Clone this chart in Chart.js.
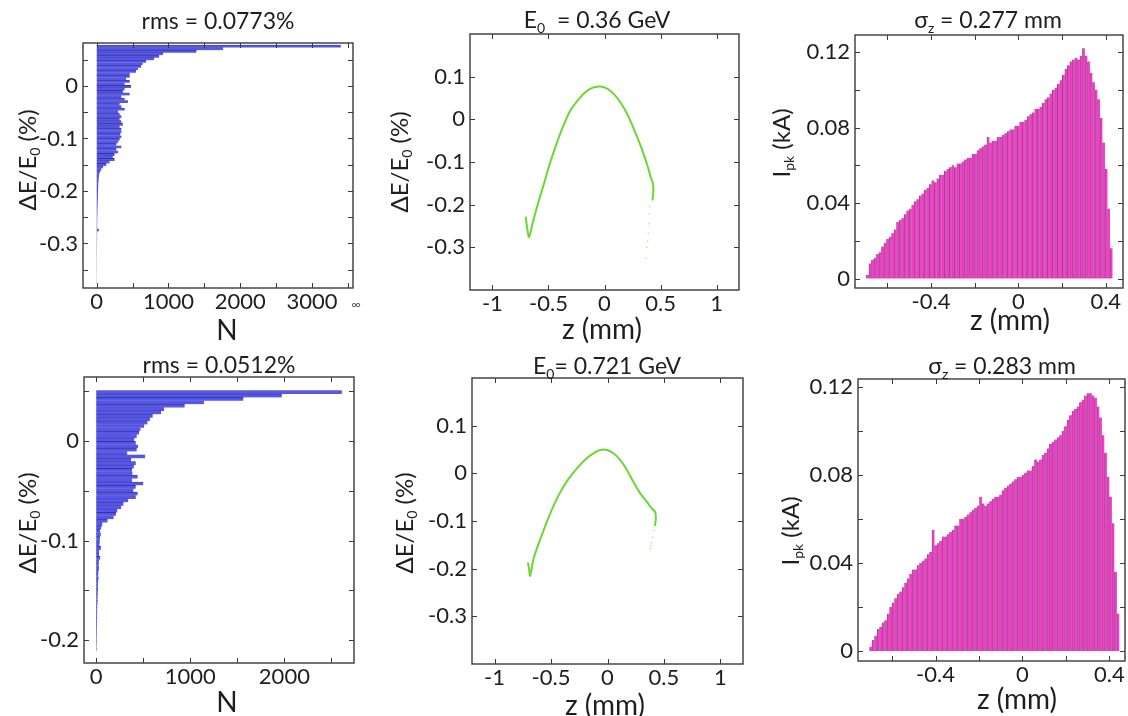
<!DOCTYPE html>
<html>
<head>
<meta charset="utf-8">
<title>Beam energy spread and current profiles</title>
<script src="https://cdn.jsdelivr.net/npm/chart.js@4.4.0/dist/chart.umd.min.js"></script>
<style>
  body { margin: 0; background: #fff; }
  #fig { position: relative; width: 1128px; height: 716px; overflow: hidden; background: #fff; }
  #fig canvas { position: absolute; }
</style>
</head>
<body>
<div id="fig"></div>
<script>
// ---- energy histogram, E0 = 0.36 GeV ----
const dE1 = [
  0.0756, 0.0708, 0.0660, 0.0612, 0.0564, 0.0516, 0.0468, 0.0420, 0.0372, 0.0324,
  0.0276, 0.0228, 0.0180, 0.0132, 0.0084, 0.0036, -0.0012, -0.0060, -0.0108, -0.0156,
  -0.0204, -0.0252, -0.0300, -0.0348, -0.0396, -0.0444, -0.0492, -0.0540, -0.0588, -0.0636,
  -0.0684, -0.0732, -0.0780, -0.0828, -0.0876, -0.0924, -0.0972, -0.1020, -0.1068, -0.1116,
  -0.1164, -0.1212, -0.1260, -0.1308, -0.1356, -0.1404, -0.1452, -0.1500, -0.1548, -0.1596,
  -0.1644, -0.1692, -0.1740, -0.1788, -0.1836, -0.1884, -0.1932, -0.1980, -0.2028, -0.2076,
  -0.2124, -0.2172, -0.2220, -0.2268, -0.2316, -0.2364, -0.2412, -0.2460, -0.2508, -0.2556,
  -0.2604, -0.2652, -0.2700, -0.2748, -0.2796, -0.2844, -0.2892, -0.2940, -0.2988, -0.3036,
  -0.3084, -0.3132, -0.3180, -0.3228, -0.3276, -0.3324, -0.3372, -0.3420, -0.3468, -0.3516,
  -0.3564, -0.3612, -0.3660, -0.3708, -0.3756
];
const count1 = [
  3400, 1760, 1390, 925, 870, 800, 690, 640, 620, 575,
  550, 460, 460, 410, 460, 390, 480, 390, 365, 460,
  345, 390, 435, 320, 345, 390, 300, 320, 345, 320,
  345, 365, 320, 345, 345, 330, 345, 320, 300, 275,
  345, 275, 300, 250, 225, 250, 180, 135, 90, 65,
  45, 35, 30, 28, 25, 24, 22, 20, 20, 18,
  17, 16, 15, 14, 13, 12, 12, 11, 10, 10,
  9, 9, 8, 30, 8, 7, 7, 6, 6, 6,
  5, 5, 5, 5, 4, 4, 4, 4, 4, 3,
  3, 3, 3, 3, 3
];

// ---- energy histogram, E0 = 0.721 GeV ----
const dE4 = [
  0.0490, 0.0456, 0.0422, 0.0388, 0.0354, 0.0320, 0.0286, 0.0252, 0.0218, 0.0184,
  0.0150, 0.0116, 0.0082, 0.0048, 0.0014, -0.0020, -0.0054, -0.0088, -0.0122, -0.0156,
  -0.0190, -0.0224, -0.0258, -0.0292, -0.0326, -0.0360, -0.0394, -0.0428, -0.0462, -0.0496,
  -0.0530, -0.0564, -0.0598, -0.0632, -0.0666, -0.0700, -0.0734, -0.0768, -0.0802, -0.0836,
  -0.0870, -0.0904, -0.0938, -0.0972, -0.1006, -0.1040, -0.1074, -0.1108, -0.1142, -0.1176,
  -0.1210, -0.1244, -0.1278, -0.1312, -0.1346, -0.1380, -0.1414, -0.1448, -0.1482, -0.1516,
  -0.1550, -0.1584, -0.1618, -0.1652, -0.1686, -0.1720, -0.1754, -0.1788, -0.1822, -0.1856,
  -0.1890, -0.1924, -0.1958, -0.1992, -0.2026, -0.2060, -0.2094
];
const count4 = [
  2611, 1972, 1564, 1146, 940, 720, 690, 600, 570, 545,
  510, 470, 455, 430, 405, 420, 445, 430, 330, 520,
  370, 420, 400, 380, 385, 440, 380, 500, 420, 395,
  440, 420, 340, 290, 265, 225, 210, 185, 120, 65,
  55, 42, 48, 40, 38, 35, 50, 32, 30, 42,
  28, 26, 30, 24, 22, 25, 20, 18, 20, 16,
  15, 14, 15, 12, 12, 11, 10, 10, 9, 8,
  8, 7, 7, 6, 6, 5, 5
];

// ---- longitudinal phase space (z in mm, dE/E0 in %) ----
const zCurve2  = [-0.703, -0.690, -0.673, -0.637, -0.592, -0.547, -0.495, -0.441, -0.381, -0.306,
                  -0.231, -0.156, -0.096, -0.036, 0.024, 0.084, 0.144, 0.204, 0.264, 0.324,
                  0.385, 0.414, 0.432, 0.436, 0.428];
const dECurve2 = [-0.228, -0.255, -0.276, -0.239, -0.196, -0.157, -0.110, -0.067, -0.024, 0.020,
                  0.047, 0.067, 0.075, 0.077, 0.072, 0.059, 0.039, 0.012, -0.024, -0.063,
                  -0.110, -0.137, -0.150, -0.165, -0.190];
const zTail2  = [0.405, 0.399, 0.394, 0.390, 0.385, 0.378, 0.372];
const dETail2 = [-0.205, -0.222, -0.245, -0.267, -0.285, -0.300, -0.325];

const zCurve5  = [-0.705, -0.695, -0.685, -0.655, -0.611, -0.567, -0.507, -0.448, -0.390, -0.330,
                  -0.257, -0.182, -0.124, -0.065, -0.005, 0.053, 0.112, 0.172, 0.230, 0.290,
                  0.349, 0.393, 0.422, 0.428, 0.420];
const dECurve5 = [-0.187, -0.200, -0.215, -0.179, -0.148, -0.120, -0.084, -0.053, -0.028, -0.007,
                  0.014, 0.032, 0.042, 0.049, 0.049, 0.042, 0.028, 0.007, -0.018, -0.042,
                  -0.060, -0.074, -0.081, -0.095, -0.110];
const zTail5  = [0.412, 0.402, 0.393, 0.385, 0.378];
const dETail5 = [-0.120, -0.134, -0.145, -0.152, -0.158];

// ---- current profiles (z in mm, Ipk in kA) ----
const zBin3 = [
  -0.6900, -0.6785, -0.6670, -0.6555, -0.6440, -0.6325, -0.6210, -0.6095, -0.5980, -0.5865,
  -0.5750, -0.5635, -0.5520, -0.5405, -0.5290, -0.5175, -0.5060, -0.4945, -0.4830, -0.4715,
  -0.4600, -0.4485, -0.4370, -0.4255, -0.4140, -0.4025, -0.3910, -0.3795, -0.3680, -0.3565,
  -0.3450, -0.3335, -0.3220, -0.3105, -0.2990, -0.2875, -0.2760, -0.2645, -0.2530, -0.2415,
  -0.2300, -0.2185, -0.2070, -0.1955, -0.1840, -0.1725, -0.1610, -0.1495, -0.1380, -0.1265,
  -0.1150, -0.1035, -0.0920, -0.0805, -0.0690, -0.0575, -0.0460, -0.0345, -0.0230, -0.0115,
  0.0000, 0.0115, 0.0230, 0.0345, 0.0460, 0.0575, 0.0690, 0.0805, 0.0920, 0.1035,
  0.1150, 0.1265, 0.1380, 0.1495, 0.1610, 0.1725, 0.1840, 0.1955, 0.2070, 0.2185,
  0.2300, 0.2415, 0.2530, 0.2645, 0.2760, 0.2875, 0.2990, 0.3105, 0.3220, 0.3335,
  0.3450, 0.3565, 0.3680, 0.3795, 0.3910, 0.4025, 0.4140, 0.4255
];
const ipk3 = [
  0.002, 0.008, 0.010, 0.011, 0.013, 0.014, 0.017, 0.019, 0.021, 0.022,
  0.024, 0.026, 0.030, 0.031, 0.032, 0.034, 0.036, 0.037, 0.039, 0.041,
  0.042, 0.044, 0.045, 0.047, 0.048, 0.050, 0.052, 0.051, 0.053, 0.055,
  0.055, 0.057, 0.058, 0.059, 0.060, 0.059, 0.061, 0.061, 0.062, 0.063,
  0.064, 0.064, 0.066, 0.066, 0.068, 0.069, 0.070, 0.071, 0.075, 0.072,
  0.073, 0.073, 0.075, 0.075, 0.076, 0.077, 0.078, 0.079, 0.079, 0.081,
  0.081, 0.083, 0.083, 0.084, 0.086, 0.087, 0.088, 0.090, 0.090, 0.091,
  0.093, 0.095, 0.096, 0.098, 0.100, 0.101, 0.103, 0.105, 0.108, 0.111,
  0.113, 0.115, 0.116, 0.117, 0.116, 0.118, 0.122, 0.118, 0.115, 0.109,
  0.104, 0.100, 0.095, 0.085, 0.072, 0.058, 0.037, 0.016
];

const zBin6 = [
  -0.6980, -0.6865, -0.6750, -0.6635, -0.6520, -0.6405, -0.6290, -0.6175, -0.6060, -0.5945,
  -0.5830, -0.5715, -0.5600, -0.5485, -0.5370, -0.5255, -0.5140, -0.5025, -0.4910, -0.4795,
  -0.4680, -0.4565, -0.4450, -0.4335, -0.4220, -0.4105, -0.3990, -0.3875, -0.3760, -0.3645,
  -0.3530, -0.3415, -0.3300, -0.3185, -0.3070, -0.2955, -0.2840, -0.2725, -0.2610, -0.2495,
  -0.2380, -0.2265, -0.2150, -0.2035, -0.1920, -0.1805, -0.1690, -0.1575, -0.1460, -0.1345,
  -0.1230, -0.1115, -0.1000, -0.0885, -0.0770, -0.0655, -0.0540, -0.0425, -0.0310, -0.0195,
  -0.0080, 0.0035, 0.0150, 0.0265, 0.0380, 0.0495, 0.0610, 0.0725, 0.0840, 0.0955,
  0.1070, 0.1185, 0.1300, 0.1415, 0.1530, 0.1645, 0.1760, 0.1875, 0.1990, 0.2105,
  0.2220, 0.2335, 0.2450, 0.2565, 0.2680, 0.2795, 0.2910, 0.3025, 0.3140, 0.3255,
  0.3370, 0.3485, 0.3600, 0.3715, 0.3830, 0.3945, 0.4060, 0.4175, 0.4290, 0.4405
];
const ipk6 = [
  0.002, 0.005, 0.007, 0.010, 0.011, 0.013, 0.014, 0.017, 0.020, 0.022,
  0.024, 0.026, 0.027, 0.029, 0.031, 0.033, 0.035, 0.037, 0.037, 0.039,
  0.040, 0.041, 0.042, 0.044, 0.045, 0.055, 0.048, 0.049, 0.050, 0.052,
  0.052, 0.053, 0.054, 0.055, 0.057, 0.057, 0.060, 0.060, 0.061, 0.062,
  0.063, 0.064, 0.065, 0.066, 0.070, 0.067, 0.066, 0.067, 0.068, 0.069,
  0.070, 0.070, 0.071, 0.073, 0.074, 0.075, 0.076, 0.077, 0.078, 0.079,
  0.079, 0.080, 0.081, 0.082, 0.082, 0.084, 0.087, 0.086, 0.087, 0.089,
  0.090, 0.092, 0.094, 0.095, 0.096, 0.097, 0.098, 0.100, 0.102, 0.105,
  0.107, 0.109, 0.110, 0.111, 0.113, 0.114, 0.116, 0.117, 0.117, 0.116,
  0.115, 0.111, 0.106, 0.098, 0.090, 0.079, 0.070, 0.058, 0.036, 0.017
];

// ---- tick positions (every tick gets a mark, only some get a label) ----
const nTicks1   = [0, 500, 1000, 1500, 2000, 2500, 3000, 3500];
const nTicks4   = [0, 500, 1000, 1500, 2000, 2500];
const dETicks1  = [-0.35, -0.3, -0.25, -0.2, -0.15, -0.1, -0.05, 0, 0.05];
const dETicks4  = [-0.2, -0.15, -0.1, -0.05, 0, 0.05];
const zTicksPS  = [-1, -0.5, 0, 0.5, 1];
const dETicksPS = [-0.3, -0.2, -0.1, 0, 0.1];
const zTicksI   = [-0.6, -0.4, -0.2, 0, 0.2, 0.4];
const iTicks    = [0, 0.02, 0.04, 0.06, 0.08, 0.10, 0.12];

// ---- look ----
const FONT = 'Lato, "Open Sans", sans-serif';
const INK = '#1e1e1e';
const AXIS_W = 60;   // fixed width of every left axis
const AXIS_H = 40;   // fixed height of every bottom axis
const BLUE = '#5656e8', BLUE_EDGE = '#2a2a86';
const PINK = '#f23ec8', PINK_EDGE = '#8a4a7e';
const GREEN = '#6cd634';

const fmt = v => String(Number(v.toFixed(6)));
const isMult = (v, m) => Math.abs(v / m - Math.round(v / m)) < 1e-6;

// text with optional subscript segments, centred on (x, y)
function drawRich(ctx, segs, x, y, size, rotate) {
  ctx.save();
  ctx.translate(x, y);
  if (rotate) ctx.rotate(-Math.PI / 2);
  const fonts = segs.map(s => (s.sub ? Math.round(size * 0.6) : size) + 'px ' + FONT);
  let total = 0;
  const widths = segs.map((s, i) => {
    ctx.font = fonts[i];
    const w = ctx.measureText(s.t).width;
    total += w;
    return w;
  });
  ctx.fillStyle = INK;
  ctx.textAlign = 'left';
  ctx.textBaseline = 'alphabetic';
  let cx = -total / 2;
  const base = size * 0.36;
  segs.forEach((s, i) => {
    ctx.font = fonts[i];
    ctx.fillText(s.t, cx, base + (s.sub ? size * 0.2 : 0));
    cx += widths[i];
  });
  ctx.restore();
}

// box round the plot with inward ticks on all four sides
const framePlugin = {
  id: 'frame',
  afterDatasetsDraw(chart) {
    const { ctx, chartArea: a } = chart;
    const x = chart.scales.x, y = chart.scales.y;
    ctx.save();
    ctx.strokeStyle = '#3a3a3a';
    ctx.lineWidth = 1;
    ctx.beginPath();
    x.ticks.forEach(t => {
      const px = Math.round(x.getPixelForValue(t.value)) + 0.5;
      ctx.moveTo(px, a.bottom); ctx.lineTo(px, a.bottom - 5);
      ctx.moveTo(px, a.top); ctx.lineTo(px, a.top + 5);
    });
    y.ticks.forEach(t => {
      const py = Math.round(y.getPixelForValue(t.value)) + 0.5;
      ctx.moveTo(a.left, py); ctx.lineTo(a.left + 5, py);
      ctx.moveTo(a.right, py); ctx.lineTo(a.right - 5, py);
    });
    ctx.stroke();
    ctx.lineWidth = 1.4;
    ctx.strokeRect(a.left, a.top, a.right - a.left, a.bottom - a.top);
    ctx.restore();
  }
};

function axis(pos, min, max, tickValues, labelEvery) {
  return {
    type: 'linear', position: pos, min, max, offset: false,
    grid: { display: false, drawTicks: false },
    border: { display: false },
    afterBuildTicks: s => { s.ticks = tickValues.map(v => ({ value: v })); },
    ticks: {
      autoSkip: false, maxRotation: 0, minRotation: 0,
      padding: pos === 'left' ? 5 : 1,
      color: INK, font: { family: FONT, size: 22 },
      callback: v => isMult(v, labelEvery) ? fmt(v) : ''
    },
    afterFit: s => {
      if (pos === 'left') s.width = AXIS_W; else s.height = AXIS_H;
      s.paddingLeft = 0; s.paddingRight = 0; s.paddingTop = 0; s.paddingBottom = 0;
    }
  };
}

const pts = (xs, ys) => xs.map((v, i) => ({ x: v, y: ys[i] }));
const dEtitle = [{ t: '\u0394E/E' }, { t: '0', sub: true }, { t: ' (%)' }];
const ipkTitle = [{ t: 'I' }, { t: 'pk', sub: true }, { t: ' (kA)' }];
const zTitle = [{ t: 'z (mm)' }];

function histogram(dE, counts) {
  return {
    type: 'bar',
    data: { datasets: [{
      data: pts(counts, dE),
      backgroundColor: BLUE, borderColor: BLUE_EDGE,
      borderWidth: { top: 0.6 }, borderSkipped: 'start',
      barPercentage: 1, categoryPercentage: 1
    }] },
    indexAxis: 'y'
  };
}

function phaseSpace(zc, dc, zt, dt) {
  return {
    type: 'scatter',
    data: { datasets: [
      { data: pts(zc, dc), showLine: true, borderColor: GREEN, borderWidth: 2,
        tension: 0.3, pointRadius: 0 },
      { data: pts(zt, dt), pointRadius: 0.8, pointBorderWidth: 0,
        backgroundColor: 'rgba(110,200,70,0.55)' }
    ] }
  };
}

function profile(z, ipk) {
  return {
    type: 'bar',
    data: { datasets: [{
      data: pts(z, ipk),
      backgroundColor: PINK, borderColor: PINK_EDGE,
      borderWidth: { left: 0.8 }, borderSkipped: 'start',
      barPercentage: 1, categoryPercentage: 1
    }] }
  };
}

const panels = [
  { cell: [0, 0, 375, 345], box: [83, 43, 353, 288], ...histogram(dE1, count1),
    x: axis('bottom', -190, 3570, nTicks1, 1000), y: axis('left', -0.385, 0.082, dETicks1, 0.1),
    title: [{ t: 'rms = 0.0773%' }], titleAt: [218, 21],
    xTitle: [{ t: 'N' }], xTitleAt: [227, 330], yTitle: dEtitle, yTitleAt: [27, 160],
    extra: { t: '\u221E', at: [356, 305] } },
  { cell: [375, 0, 385, 345], box: [470, 34, 739, 290], ...phaseSpace(zCurve2, dECurve2, zTail2, dETail2),
    x: axis('bottom', -1.2, 1.2, zTicksPS, 0.5), y: axis('left', -0.4, 0.2, dETicksPS, 0.1),
    title: [{ t: 'E' }, { t: '0', sub: true }, { t: '  = 0.36 GeV' }], titleAt: [597, 20],
    xTitle: zTitle, xTitleAt: [602, 329], yTitle: dEtitle, yTitleAt: [399, 162] },
  { cell: [760, 0, 368, 345], box: [855, 35, 1123, 288], ...profile(zBin3, ipk3),
    x: axis('bottom', -0.748, 0.479, zTicksI, 0.4), y: axis('left', -0.005, 0.129, iTicks, 0.04),
    title: [{ t: '\u03C3' }, { t: 'z', sub: true }, { t: ' = 0.277 mm' }], titleAt: [988, 20],
    xTitle: zTitle, xTitleAt: [1010, 320], yTitle: ipkTitle, yTitleAt: [781, 143] },
  { cell: [0, 345, 375, 371], box: [84, 377, 354, 663], ...histogram(dE4, count4),
    x: axis('bottom', -130, 2740, nTicks4, 1000), y: axis('left', -0.223, 0.0644, dETicks4, 0.1),
    title: [{ t: 'rms = 0.0512%' }], titleAt: [219, 365],
    xTitle: [{ t: 'N' }], xTitleAt: [227, 702], yTitle: dEtitle, yTitleAt: [27, 523] },
  { cell: [375, 345, 385, 371], box: [472, 378, 743, 664], ...phaseSpace(zCurve5, dECurve5, zTail5, dETail5),
    x: axis('bottom', -1.2, 1.2, zTicksPS, 0.5), y: axis('left', -0.4, 0.2, dETicksPS, 0.1),
    title: [{ t: 'E' }, { t: '0', sub: true }, { t: '= 0.721 GeV' }], titleAt: [607, 366],
    xTitle: zTitle, xTitleAt: [605, 705], yTitle: dEtitle, yTitleAt: [404, 523] },
  { cell: [760, 345, 368, 371], box: [858, 379, 1125, 661], ...profile(zBin6, ipk6),
    x: axis('bottom', -0.757, 0.472, zTicksI, 0.4), y: axis('left', -0.0045, 0.1235, iTicks, 0.04),
    title: [{ t: '\u03C3' }, { t: 'z', sub: true }, { t: ' = 0.283 mm' }], titleAt: [1002, 366],
    xTitle: zTitle, xTitleAt: [1017, 699], yTitle: ipkTitle, yTitleAt: [790, 531] }
];

const fig = document.getElementById('fig');
panels.forEach(p => {
  const [cx, cy, cw, ch] = p.cell;
  const [L, T, R, B] = p.box;
  const canvas = document.createElement('canvas');
  canvas.width = cw; canvas.height = ch;
  canvas.style.left = cx + 'px'; canvas.style.top = cy + 'px';
  canvas.style.width = cw + 'px'; canvas.style.height = ch + 'px';
  fig.appendChild(canvas);

  const textPlugin = {
    id: 'texts',
    afterDraw(chart) {
      const ctx = chart.ctx;
      drawRich(ctx, p.title, p.titleAt[0] - cx, p.titleAt[1] - cy, 23);
      drawRich(ctx, p.xTitle, p.xTitleAt[0] - cx, p.xTitleAt[1] - cy, 28);
      drawRich(ctx, p.yTitle, p.yTitleAt[0] - cx, p.yTitleAt[1] - cy, 24, true);
      if (p.extra) {
        ctx.save();
        ctx.font = '13px ' + FONT;
        ctx.fillStyle = '#555';
        ctx.textAlign = 'center';
        ctx.textBaseline = 'middle';
        ctx.fillText(p.extra.t, p.extra.at[0] - cx, p.extra.at[1] - cy);
        ctx.restore();
      }
    }
  };

  new Chart(canvas.getContext('2d'), {
    type: p.type,
    data: p.data,
    options: {
      indexAxis: p.indexAxis || 'x',
      responsive: false,
      animation: false,
      events: [],
      layout: { padding: {
        left: L - cx - AXIS_W, top: T - cy,
        right: cx + cw - R, bottom: cy + ch - B - AXIS_H
      } },
      plugins: { legend: { display: false }, tooltip: { enabled: false }, title: { display: false } },
      scales: { x: p.x, y: p.y }
    },
    plugins: [framePlugin, textPlugin]
  });
});
</script>
</body>
</html>
